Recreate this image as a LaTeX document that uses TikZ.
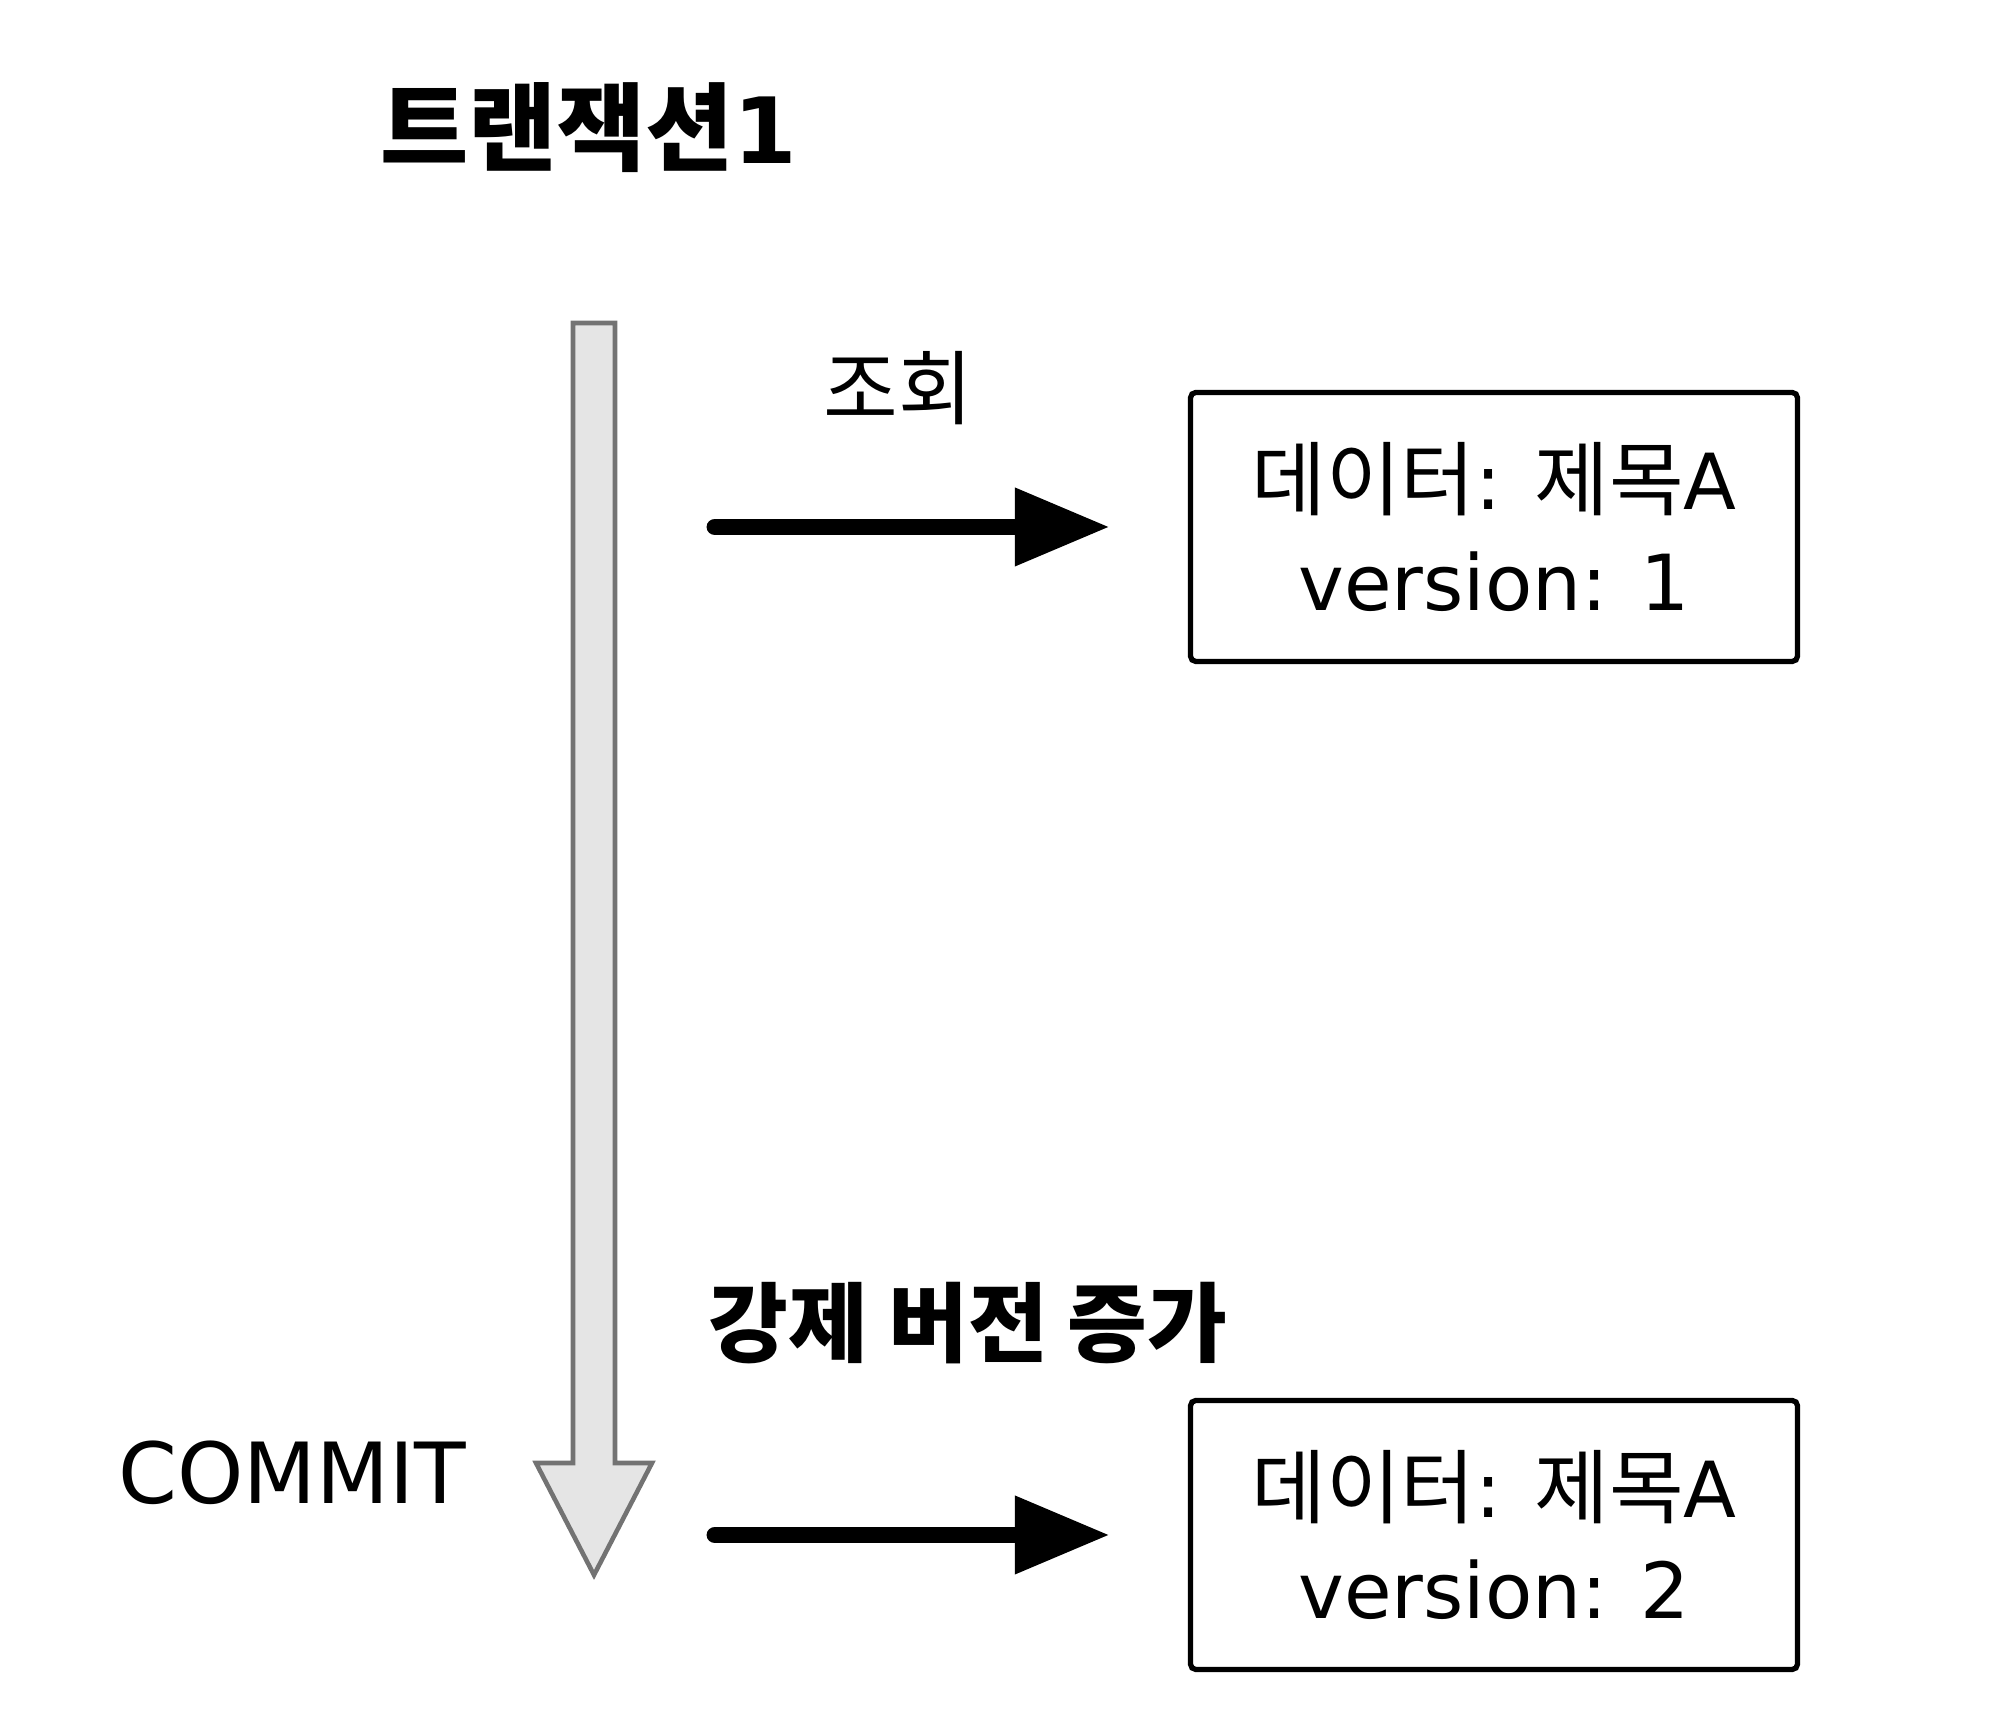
\documentclass[tikz,border=0pt]{standalone}
\usepackage{fontspec}
\setmainfont{DejaVu Sans}
\newfontfamily\kor[Scale=1.05]{Noto Sans CJK KR}
\usetikzlibrary{arrows.meta}
\newcommand{\ko}[1]{{\kor #1}}

\begin{document}
\begin{tikzpicture}[
    databox/.style={draw, line width=1.5pt, rounded corners=1.5pt, minimum width=6.07cm, minimum height=2.69cm, align=center, font=\fontsize{22}{28.5}\selectfont},
    readarrow/.style={line width=4.8pt, line cap=round, -{Triangle[length=9.5mm, width=7.4mm]}, shorten >=7.8mm},
    timeline/.style={draw=black!55, fill=black!10, line width=1.3pt}
]
    \useasboundingbox (0,0) rectangle (20,17.1);
    %title
    \node (title) at (5.89,15.82) {\fontsize{26}{30}\selectfont\bfseries\ko{트랜잭션}1};
    %time line
    \draw [timeline] (5.73,13.87) -- (6.15,13.87) -- (6.15,2.47) -- (6.52,2.47) -- (5.94,1.35) -- (5.36,2.47) -- (5.73,2.47) -- cycle;
    %boxes
    \node [databox] (row1) at (14.94,11.83) {\ko{데이터}: \ko{제목}A\\version: 1};
    \node [databox] (row2) at (14.94,1.75) {\ko{데이터}: \ko{제목}A\\version: 2};
    %arrows
    \coordinate (read) at (7.15,11.83);
    \coordinate (bump) at (7.15,1.75);
    \draw [readarrow] (read) -- (row1.west);
    \draw [readarrow] (bump) -- (row2.west);
    %labels
    \node (readlabel) at (8.98,13.22) {\fontsize{22}{26}\selectfont\ko{조회}};
    \node (bumplabel) at (9.68,3.87) {\fontsize{23.5}{28}\selectfont\bfseries\ko{강제 버전 증가}};
    \node (commit) at (2.92,2.37) {\fontsize{24}{28}\selectfont COMMIT};
\end{tikzpicture}
\end{document}
